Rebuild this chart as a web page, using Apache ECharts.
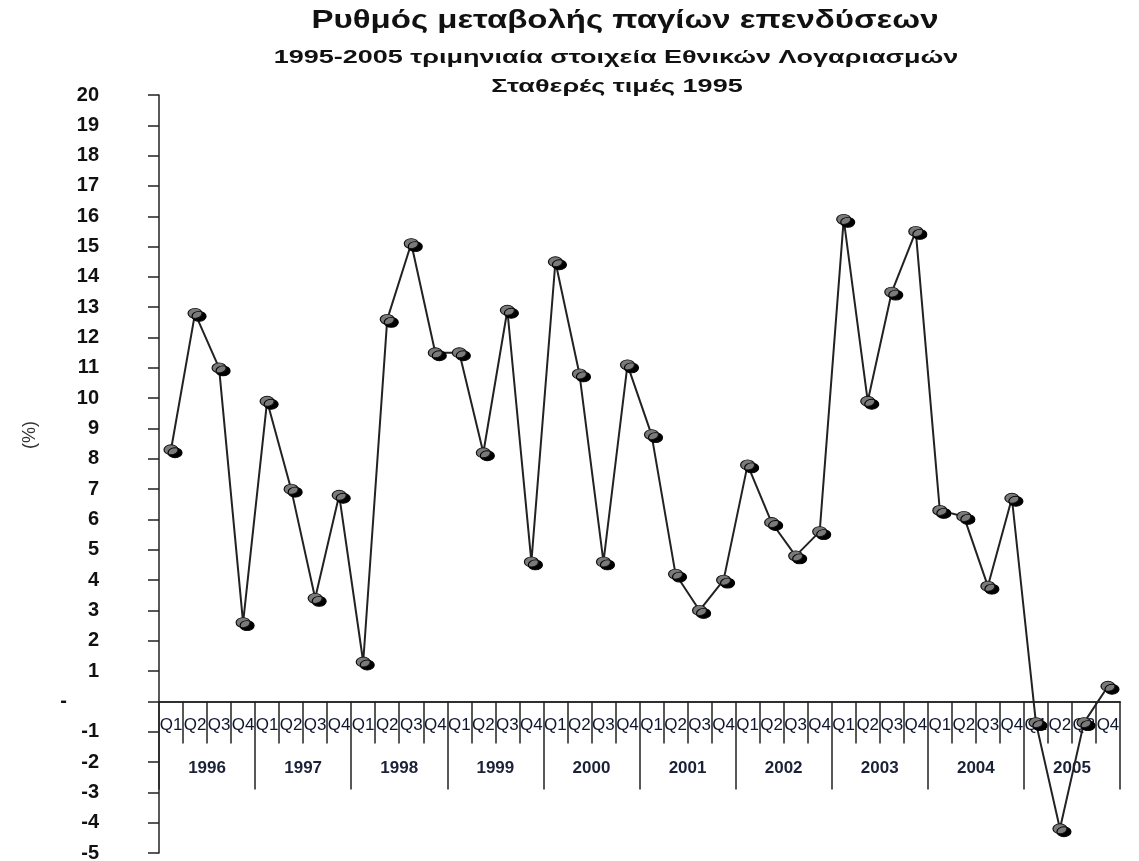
<!DOCTYPE html>
<html>
<head>
<meta charset="utf-8">
<script src="https://cdn.jsdelivr.net/npm/echarts@6/dist/echarts.min.js"></script>
<style>
	html, body { margin: 0; padding: 0; background: #fff; }
	#chart { width: 1139px; height: 861px; }
</style>
</head>
<body>
<div id="chart"></div>
<script>
// Ρυθμός μεταβολής παγίων επενδύσεων, τριμηνιαία 1996-2005
const years = ['1996', '1997', '1998', '1999', '2000', '2001', '2002', '2003', '2004', '2005'];
const quarterNames = ['Q1', 'Q2', 'Q3', 'Q4'];
const rates = [
	8.3, 12.8, 11.0, 2.6,
	9.9, 7.0, 3.4, 6.8,
	1.3, 12.6, 15.1, 11.5,
	11.5, 8.2, 12.9, 4.6,
	14.5, 10.8, 4.6, 11.1,
	8.8, 4.2, 3.0, 4.0,
	7.8, 5.9, 4.8, 5.6,
	15.9, 9.9, 13.5, 15.5,
	6.3, 6.1, 3.8, 6.7,
	-0.7, -4.2, -0.7, 0.5
];
const yMin = -5;
const yMax = 20;

let quarters = [];
years.forEach(function () {
	quarterNames.forEach(function (q) { quarters.push(q); });
});

const fontFamily = '"Liberation Sans", Arial, sans-serif';
const gridTop = 95;
const gridBottom = 8;
const gridHeight = 861 - gridTop - gridBottom;
// both category axes are moved up onto the zero line
const zeroOffset = -gridHeight * (0 - yMin) / (yMax - yMin);

// titles are a bit stretched horizontally in the original
const titleText = function (text, x, y, size, scaleX) {
	return {
		type: 'text',
		x: x,
		y: y,
		scaleX: scaleX,
		style: {
			text: text,
			align: 'center',
			verticalAlign: 'middle',
			fontFamily: fontFamily,
			fontSize: size,
			fontWeight: 'bold',
			fill: '#111',
		},
	};
};

let chart = echarts.init(document.getElementById('chart'));

let option = {
	backgroundColor: '#fff',
	animation: false,
	graphic: [
		titleText('Ρυθμός μεταβολής παγίων επενδύσεων', 625, 21, 25, 1.32),
		titleText('1995-2005 τριμηνιαία στοιχεία Εθνικών Λογαριασμών', 616, 58, 18, 1.5),
		titleText('Σταθερές τιμές 1995', 617, 87, 18, 1.5),
		{
			type: 'text',
			x: 30,
			y: 435,
			rotation: Math.PI / 2,
			style: {
				text: '(%)',
				align: 'center',
				verticalAlign: 'middle',
				fontFamily: fontFamily,
				fontSize: 18,
				fill: '#333',
			},
		},
	],
	grid: {
		left: 159,
		right: 19,
		top: gridTop,
		bottom: gridBottom,
		outerBoundsMode: 'none',
		containLabel: false,
	},
	xAxis: [
		{
			type: 'category',
			data: quarters,
			position: 'bottom',
			offset: zeroOffset,
			boundaryGap: true,
			axisLine: { onZero: false, lineStyle: { color: '#222', width: 1.5 } },
			axisTick: { show: true, interval: 0, length: 42, lineStyle: { color: '#222', width: 1.5 } },
			axisLabel: {
				interval: 0,
				hideOverlap: false,
				margin: 15,
				fontFamily: fontFamily,
				fontSize: 17,
				color: '#0e1630',
			},
			splitLine: { show: false },
		},
		{
			type: 'category',
			data: years,
			position: 'bottom',
			offset: zeroOffset,
			boundaryGap: true,
			axisLine: { onZero: false, lineStyle: { color: '#222', width: 1.5 } },
			axisTick: { show: true, interval: 0, length: 88, lineStyle: { color: '#222', width: 1.5 } },
			axisLabel: {
				interval: 0,
				margin: 58,
				fontFamily: fontFamily,
				fontSize: 17,
				fontWeight: 'bold',
				color: '#1a2238',
			},
			splitLine: { show: false },
		},
	],
	yAxis: {
		type: 'value',
		min: yMin,
		max: yMax,
		interval: 1,
		axisLine: { show: true, onZero: false, lineStyle: { color: '#222', width: 1.5 } },
		axisTick: { show: true, length: 11, lineStyle: { color: '#222', width: 1.5 } },
		axisLabel: {
			margin: 60,
			fontFamily: fontFamily,
			fontSize: 20,
			fontWeight: 'bold',
			color: '#111',
			formatter: function (v) {
				return v === 0 ? '{z|-}' : String(v);
			},
			rich: {
				z: { fontFamily: fontFamily, fontSize: 20, fontWeight: 'bold', color: '#111', padding: [0, 32, 0, 0] },
			},
		},
		splitLine: { show: false },
	},
	series: [
		{
			name: 'Ρυθμός μεταβολής',
			type: 'line',
			xAxisIndex: 0,
			data: rates,
			symbol: 'path://M0,5 A7,5 0 1,0 14,5 A7,5 0 1,0 0,5 Z',
			symbolSize: [14, 10],
			lineStyle: { color: '#222', width: 2 },
			itemStyle: {
				color: '#7a7a7a',
				borderColor: '#111',
				borderWidth: 1,
				shadowColor: '#000',
				shadowBlur: 0,
				shadowOffsetX: 4,
				shadowOffsetY: 3,
			},
			z: 5,
		},
	],
};

chart.setOption(option);
</script>
</body>
</html>
